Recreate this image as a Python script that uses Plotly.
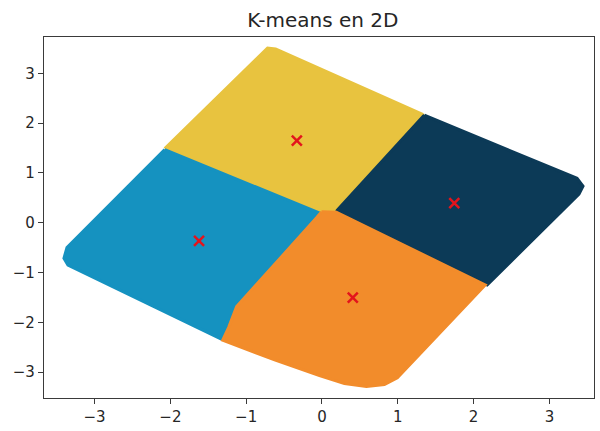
import plotly.graph_objects as go

# Cluster outlines (data coordinates)
yellow_x = [-2.074, -0.797, -0.718, -0.612, 1.323, 1.337, 0.178, 0.100, -0.020, -0.040]
yellow_y = [1.487, 3.409, 3.508, 3.489, 2.180, 2.150, 0.250, 0.270, 0.230, 0.200]

navy_x = [1.350, 3.364, 3.443, 3.390, 2.179, 0.190, 0.200]
navy_y = [2.161, 0.892, 0.733, 0.575, -1.249, 0.200, 0.250]

blue_x = [-2.074, -0.040, -0.072, -1.126, -1.231, -1.323, -3.351, -3.404, -3.364]
blue_y = [1.467, 0.200, 0.099, -1.685, -2.101, -2.339, -0.852, -0.714, -0.496]

orange_x = [-0.007, 0.190, 2.153, 0.994, 0.823, 0.586, 0.296, -0.033, -0.625, -1.310, -1.231, -1.126, -0.072]
orange_y = [0.218, 0.210, -1.249, -3.112, -3.251, -3.290, -3.231, -3.072, -2.755, -2.359, -2.101, -1.685, 0.099]

# Centroids
centroid_x = [-0.332, 1.745, -1.622, 0.406]
centroid_y = [1.651, 0.396, -0.363, -1.506]

tick_vals = [-3, -2, -1, 0, 1, 2, 3]

clusters = [
    (yellow_x, yellow_y, "#E8C33F"),
    (navy_x, navy_y, "#0C3A57"),
    (blue_x, blue_y, "#1592C0"),
    (orange_x, orange_y, "#F28C2B"),
]

fig = go.Figure()
for xs, ys, col in clusters:
    fig.add_trace(go.Scatter(
        x=xs + [xs[0]], y=ys + [ys[0]], mode="lines", fill="toself",
        fillcolor=col, line=dict(color=col, width=3, shape="linear"),
        hoverinfo="skip", showlegend=False,
    ))

fig.add_trace(go.Scatter(
    x=centroid_x, y=centroid_y, mode="markers",
    marker=dict(symbol="x-thin", size=10, color="#E3141C",
                line=dict(width=2.5, color="#E3141C")),
    showlegend=False,
))

axis_common = dict(
    showgrid=False, zeroline=False, showline=True, mirror=True,
    linecolor="#3a3a3a", linewidth=1.3, ticks="outside", ticklen=5,
    tickcolor="#3a3a3a", tickwidth=1.2, tickvals=tick_vals,
    tickfont=dict(family="DejaVu Sans", size=15, color="#262626"),
)

fig.update_layout(
    width=600, height=431,
    margin=dict(l=44, r=5, t=37, b=28),
    paper_bgcolor="white", plot_bgcolor="white",
    title=dict(text="K-means en 2D", x=0.538, xanchor="center",
               y=1 - 19.7 / 431, yanchor="middle", yref="container",
               font=dict(family="DejaVu Sans", size=20, color="#262626")),
    xaxis=dict(range=[-3.667, 3.588], **axis_common),
    yaxis=dict(range=[-3.52, 3.73], **axis_common),
)

fig.write_html(
    "out.html",
    config={"displayModeBar": False},
    post_script="document.body.style.margin='0px';document.body.style.padding='0px';",
)
